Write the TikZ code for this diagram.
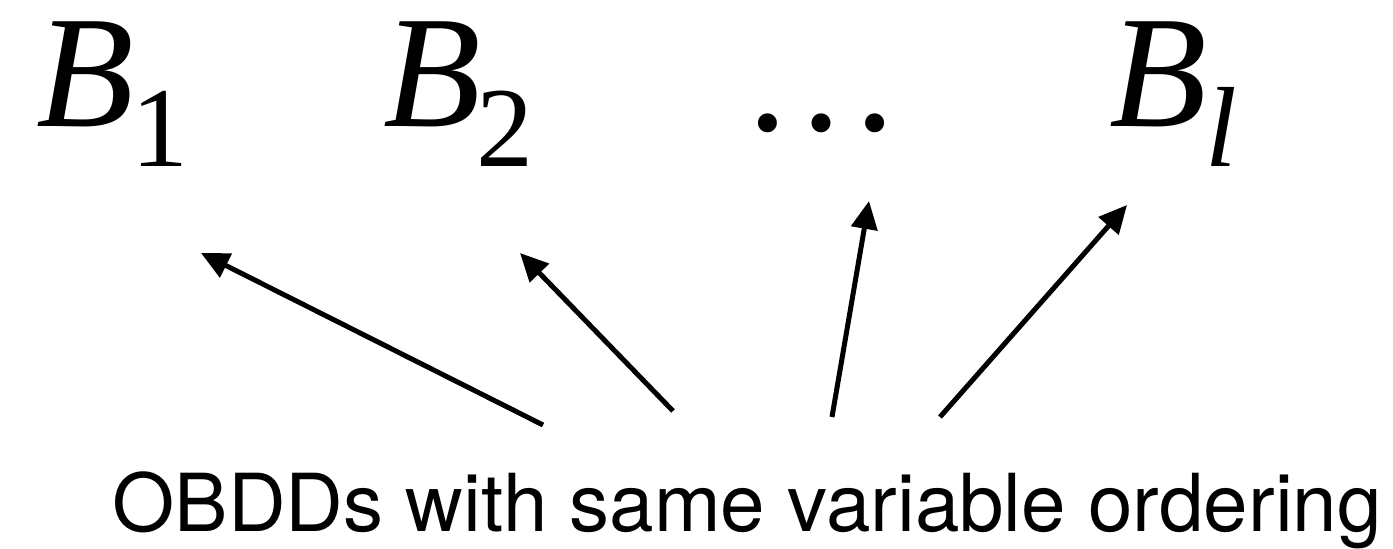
\documentclass[tikz,border=0pt]{standalone}
\usepackage{fontspec}
\setmainfont{Liberation Serif}
\newfontfamily\helv{TeX Gyre Heros}
\usetikzlibrary{arrows.meta}
\tikzset{
  bigB/.style={inner sep=0pt, anchor=base west, font=\fontsize{80pt}{96pt}\selectfont\itshape},
  subrm/.style={inner sep=0pt, anchor=base west, font=\fontsize{57pt}{68pt}\selectfont},
  subit/.style={inner sep=0pt, anchor=base west, font=\fontsize{57pt}{68pt}\selectfont\itshape},
  label/.style={inner sep=0pt, anchor=base west, font=\fontsize{40pt}{48pt}\selectfont\helv},
  pointer/.style={line width=2.5pt, -{Triangle[length=14pt,width=13pt]}}
}
\begin{document}
\begin{tikzpicture}[x=0.5pt,y=-0.5pt]
\useasboundingbox (0,0) rectangle (1393,549);
% top labels
\node[bigB] (b1) at (36,127) {B};
\node[subrm] (s1) at (131,167) {1};
\node[bigB] (b2) at (383,127) {B};
\node[subrm] (s2) at (476,167) {2};
\node[inner sep=0pt, anchor=base, font=\fontsize{80pt}{96pt}\selectfont] (dots) at (821,131) {…};
\node[bigB] (bl) at (1109,127) {B};
\node[subit] (sl) at (1205,167) {l};
% bottom label
\node[label] (txt) at (112,532) {OBDDs with same variable ordering};
% arrow end points
\coordinate (t1) at (543,425);
\coordinate (h1) at (201,253);
\coordinate (t2) at (673,411);
\coordinate (h2) at (520,253);
\coordinate (t3) at (832,417);
\coordinate (h3) at (869,201);
\coordinate (t4) at (940,417);
\coordinate (h4) at (1127,205);
\draw[pointer] (t1) -- (h1);
\draw[pointer] (t2) -- (h2);
\draw[pointer] (t3) -- (h3);
\draw[pointer] (t4) -- (h4);
\end{tikzpicture}
\end{document}
